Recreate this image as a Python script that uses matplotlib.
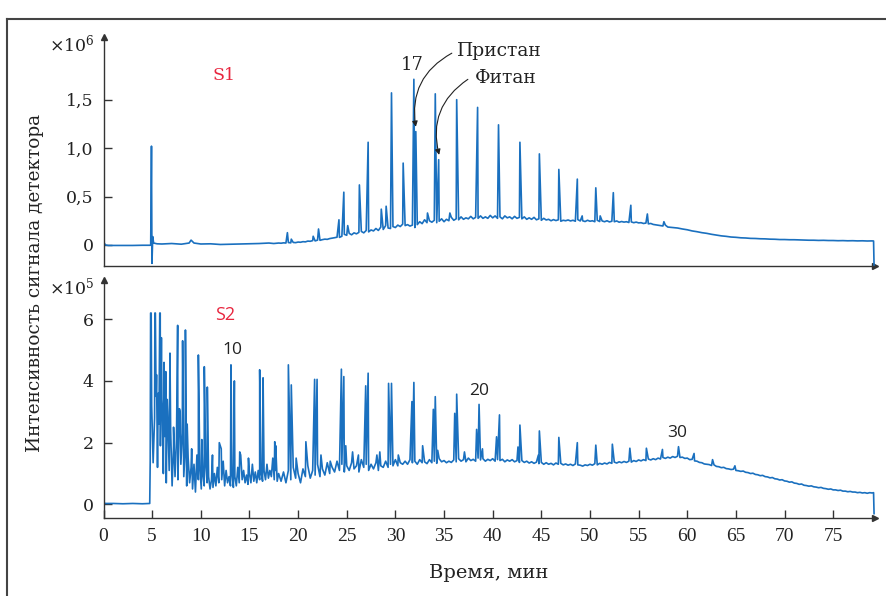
import matplotlib
matplotlib.use("Agg")
import matplotlib.pyplot as plt
import numpy as np
from matplotlib.lines import Line2D

plt.rcParams['font.family'] = ['DejaVu Serif']
plt.rcParams['mathtext.fontset'] = 'dejavuserif'

# ---------------- S1 (x10^6) ----------------
# quiet start of the run
s1_pre_t = [0, 0.2, 0.5, 1, 2, 3, 4, 4.85, 5.15, 5.5, 6, 7, 8, 8.8, 9.3, 10,
            11, 12, 13, 14, 15, 16, 17, 17.5, 18.0]
s1_pre_v = [0.03, 0.0, -0.005, -0.005, -0.004, -0.005, -0.003, -0.003, 0.02, 0.012,
            0.01, 0.015, 0.008, 0.02, 0.02, 0.01, 0.012, 0.005, 0.008, 0.01,
            0.012, 0.015, 0.02, 0.015, 0.02]
# noisy hump, every 0.25 min from 18.25 to 58.00
s1_hump_start = 18.25
s1_hump_v = [
    0.018, 0.022, 0.020, 0.025, 0.022, 0.026, 0.024, 0.030,
    0.028, 0.034, 0.032, 0.040, 0.038, 0.045, 0.042, 0.050,
    0.048, 0.055, 0.060, 0.058, 0.066, 0.070, 0.075, 0.080,
    0.078, 0.090, 0.110, 0.100, 0.120, 0.105, 0.125, 0.115,
    0.130, 0.140, 0.125, 0.150, 0.135, 0.155, 0.145, 0.170,
    0.150, 0.185, 0.160, 0.200, 0.175, 0.170, 0.190, 0.180,
    0.205, 0.190, 0.215, 0.200, 0.210, 0.195, 0.205, 0.180,
    0.210, 0.240, 0.220, 0.260, 0.230, 0.250, 0.235, 0.255,
    0.230, 0.245, 0.270, 0.240, 0.265, 0.250, 0.285, 0.255,
    0.270, 0.260, 0.290, 0.265, 0.280, 0.270, 0.295, 0.270,
    0.285, 0.275, 0.300, 0.275, 0.290, 0.275, 0.305, 0.280,
    0.300, 0.275, 0.290, 0.270, 0.300, 0.280, 0.290, 0.270,
    0.295, 0.275, 0.285, 0.270, 0.290, 0.265, 0.280, 0.265,
    0.285, 0.260, 0.270, 0.255, 0.275, 0.258, 0.265, 0.250,
    0.262, 0.252, 0.260, 0.245, 0.255, 0.250, 0.258, 0.248,
    0.255, 0.245, 0.262, 0.248, 0.250, 0.242, 0.255, 0.245,
    0.250, 0.240, 0.255, 0.242, 0.248, 0.240, 0.250, 0.238,
    0.245, 0.240, 0.248, 0.235, 0.242, 0.236, 0.240, 0.232,
    0.238, 0.230, 0.236, 0.228, 0.230, 0.222, 0.226, 0.218,
    0.222, 0.212, 0.208, 0.205, 0.200, 0.196, 0.205, 0.185,
]
# tail, every 0.5 min from 58.5 to 79.0, then end of run
s1_tail_start = 58.5
s1_tail_v = [
    0.180, 0.175, 0.165, 0.157, 0.145, 0.137, 0.127, 0.120, 0.110, 0.102,
    0.094, 0.089, 0.082, 0.079, 0.074, 0.072, 0.068, 0.067, 0.064, 0.063,
    0.060, 0.059, 0.056, 0.056, 0.054, 0.054, 0.052, 0.051, 0.049, 0.049,
    0.047, 0.048, 0.046, 0.046, 0.044, 0.045, 0.043, 0.044, 0.042, 0.043,
    0.041, 0.042,
]
s1_end_t = [79.15, 79.2]
s1_end_v = [0.041, -0.21]
# peaks: retention time (min), height
s1_peak_t = [4.93, 4.98, 5.06, 9.0, 9.1, 18.9, 19.3, 21.55, 22.1, 24.2, 24.7,
             25.1, 26.3, 27.2, 28.55, 29.05, 29.6, 30.8, 31.9, 32.1, 33.3,
             34.1, 34.45, 35.6, 36.3, 38.45, 40.6, 42.8, 44.8, 46.8, 48.7,
             49.2, 50.6, 51.05, 52.4, 54.2, 55.9, 57.6]
s1_peak_v = [1.02, -0.19, 0.086, 0.05, 0.04, 0.127, 0.06, 0.09, 0.165, 0.26, 0.545,
             0.2, 0.62, 1.06, 0.37, 0.40, 1.57, 0.845, 1.71, 1.17, 0.33,
             1.56, 0.88, 0.33, 1.50, 1.42, 1.24, 1.06, 0.94, 0.78, 0.68,
             0.30, 0.59, 0.30, 0.54, 0.41, 0.32, 0.24]

# ---------------- S2 (x10^5) ----------------
s2_pre_t = [0, 0.2, 1, 2, 3, 4, 4.75]
s2_pre_v = [0.05, 0.03, 0.03, 0.02, 0.03, 0.02, 0.03]
# dense early part, every 0.15 min from 4.80 to 18.00
s2_early_start = 4.8
s2_early_v = [
    1.4, 3.2, 1.35, 2.8, 3.5, 1.2, 2.6, 1.9, 3.4, 1.0,
    2.2, 0.7, 3.0, 1.1, 2.4, 0.6, 1.9, 0.9, 2.1, 0.8,
    3.1, 1.3, 2.3, 0.9, 1.8, 0.6, 1.5, 0.7, 1.2, 0.5,
    1.3, 0.4, 1.6, 0.8, 1.2, 0.5, 1.0, 0.6, 1.3, 0.7,
    0.9, 0.5, 0.8, 0.55, 1.0, 0.6, 1.2, 0.7, 1.9, 0.8,
    1.4, 0.6, 1.1, 0.7, 0.9, 0.6, 1.0, 0.55, 0.9, 0.6,
    1.2, 0.7, 1.6, 0.8, 1.1, 0.7, 0.95, 0.65, 1.0, 0.7,
    1.3, 0.75, 1.05, 0.7, 1.1, 0.8, 1.0, 0.75, 1.1, 0.8,
    1.3, 0.85, 1.1, 0.9, 1.5, 0.8, 1.1, 0.75, 1.0,
]
# hump, every 0.25 min from 18.25 to 62.00
s2_hump_start = 18.25
s2_hump_v = [
    0.75, 1.05, 0.70, 1.10, 0.80, 1.20, 0.85, 1.00,
    0.70, 1.15, 0.90, 1.25, 0.85, 1.10, 0.95, 1.30,
    0.90, 1.15, 0.95, 1.35, 1.00, 1.20, 1.05, 1.40,
    1.10, 1.30, 1.05, 1.25, 1.10, 1.35, 1.15, 1.25,
    1.05, 1.45, 1.20, 1.30, 1.10, 1.30, 1.15, 1.35,
    1.10, 1.25, 1.20, 1.40, 1.20, 1.30, 1.25, 1.45,
    1.25, 1.35, 1.30, 1.40, 1.30, 1.45, 1.35, 1.40,
    1.30, 1.45, 1.35, 1.38, 1.32, 1.45, 1.35, 1.40,
    1.33, 1.48, 1.38, 1.42, 1.35, 1.40, 1.36, 1.44,
    1.38, 1.48, 1.40, 1.45, 1.38, 1.50, 1.42, 1.46,
    1.40, 1.50, 1.44, 1.48, 1.40, 1.46, 1.42, 1.48,
    1.40, 1.45, 1.42, 1.46, 1.38, 1.44, 1.40, 1.45,
    1.38, 1.42, 1.36, 1.42, 1.36, 1.40, 1.34, 1.38,
    1.33, 1.37, 1.32, 1.36, 1.30, 1.35, 1.30, 1.33,
    1.28, 1.34, 1.30, 1.33, 1.28, 1.31, 1.27, 1.30,
    1.26, 1.31, 1.28, 1.27, 1.24, 1.28, 1.26, 1.30,
    1.27, 1.32, 1.28, 1.33, 1.30, 1.34, 1.31, 1.36,
    1.33, 1.37, 1.34, 1.38, 1.35, 1.39, 1.36, 1.40,
    1.37, 1.42, 1.39, 1.44, 1.41, 1.45, 1.42, 1.47,
    1.44, 1.48, 1.45, 1.50, 1.47, 1.52, 1.49, 1.53,
    1.50, 1.55, 1.52, 1.56, 1.52, 1.53, 1.49, 1.50,
    1.45, 1.46, 1.41, 1.40, 1.36, 1.35, 1.31, 1.30,
]
# tail, every 0.25 min from 62.25 to 79.00
s2_tail_start = 62.25
s2_tail_v = [
    1.29, 1.26, 1.28, 1.23, 1.22, 1.19, 1.20, 1.16,
    1.15, 1.13, 1.14, 1.10, 1.09, 1.07, 1.08, 1.04,
    1.03, 1.00, 1.01, 0.97, 0.96, 0.93, 0.94, 0.90,
    0.89, 0.86, 0.87, 0.83, 0.82, 0.79, 0.80, 0.76,
    0.75, 0.72, 0.73, 0.69, 0.68, 0.65, 0.66, 0.62,
    0.61, 0.59, 0.60, 0.57, 0.56, 0.54, 0.55, 0.52,
    0.51, 0.49, 0.50, 0.47, 0.47, 0.45, 0.46, 0.43,
    0.43, 0.41, 0.42, 0.40, 0.40, 0.38, 0.39, 0.37,
    0.38, 0.36, 0.38, 0.37,
]
s2_end_t = [79.15, 79.2]
s2_end_v = [0.38, -0.3]
s2_peak_t = [4.84, 4.90, 5.28, 5.33, 5.45, 5.62, 5.78, 5.83, 5.95, 6.05, 6.22,
             6.4, 6.55, 6.83, 7.2, 7.62, 7.88, 8.13, 8.42, 8.6, 9.06, 9.75,
             10.1, 10.36, 10.67, 11.2, 11.9, 12.1, 13.1, 13.45, 14.0, 14.9,
             16.05, 16.4, 17.6, 17.7, 19.0, 19.3, 19.8, 20.8, 21.7, 21.95,
             22.35, 23.3, 24.45, 24.7, 24.9, 25.6, 26.2, 26.95, 27.2, 28.1,
             28.4, 29.3, 29.6, 30.3, 31.7, 31.9, 32.8, 33.9, 34.1, 34.35,
             36.1, 36.3, 37.1, 38.35, 38.6, 38.95, 40.4, 40.7, 42.6, 42.8,
             44.7, 44.8, 46.8, 48.7, 50.6, 52.3, 54.1, 55.8, 57.45, 59.1,
             60.7, 62.6, 64.9]
s2_peak_v = [6.2, 6.2, 6.2, 6.2, 4.2, 3.6, 6.2, 6.2, 5.4, 3.1, 4.6,
             4.3, 3.4, 4.9, 2.5, 5.8, 3.0, 5.3, 5.65, 2.6, 1.8, 4.84,
             2.1, 4.46, 3.8, 1.6, 2.0, 1.8, 4.52, 4.0, 1.7, 1.5,
             4.36, 4.1, 2.03, 1.9, 4.52, 3.87, 1.5, 2.03, 4.05, 4.05,
             1.6, 1.4, 4.38, 4.14, 1.9, 1.7, 1.6, 3.84, 4.25, 1.6,
             1.7, 3.92, 3.92, 1.6, 3.33, 3.95, 1.9, 3.08, 3.49, 1.75,
             2.95, 3.57, 1.7, 2.43, 3.24, 1.8, 2.19, 2.9, 1.86, 2.57,
             1.6, 2.38, 2.17, 2.0, 1.92, 1.95, 1.82, 1.82, 1.78, 1.87,
             1.65, 1.45, 1.25]

time_ticks = list(range(0, 80, 5))


def grid(start, step, vals):
    return start + step * np.arange(len(vals))


def build(parts_t, parts_v):
    t = np.concatenate([np.asarray(p, float) for p in parts_t])
    v = np.concatenate([np.asarray(p, float) for p in parts_v])
    order = np.argsort(t, kind='stable')
    return t[order], v[order]


s1_t, s1_v = build(
    [s1_pre_t, grid(s1_hump_start, 0.25, s1_hump_v), grid(s1_tail_start, 0.5, s1_tail_v),
     s1_end_t, s1_peak_t],
    [s1_pre_v, s1_hump_v, s1_tail_v, s1_end_v, s1_peak_v])
s2_t, s2_v = build(
    [s2_pre_t, grid(s2_early_start, 0.15, s2_early_v), grid(s2_hump_start, 0.25, s2_hump_v),
     grid(s2_tail_start, 0.25, s2_tail_v), s2_end_t, s2_peak_t],
    [s2_pre_v, s2_early_v, s2_hump_v, s2_tail_v, s2_end_v, s2_peak_v])

line_color = '#1a70bf'
red = '#e8263f'
axis_color = '#333333'
txt = '#222222'

fig = plt.figure(figsize=(8.87, 5.96), dpi=100)
ax1 = fig.add_axes([0.1167, 0.5542, 0.8698, 0.3842])
ax2 = fig.add_axes([0.1167, 0.1304, 0.8698, 0.3998])

for ax in (ax1, ax2):
    for s in ('top', 'right'):
        ax.spines[s].set_visible(False)
    for s in ('left', 'bottom'):
        ax.spines[s].set_color(axis_color)
        ax.spines[s].set_linewidth(1.0)
    ax.set_xlim(0, 79.3)
    ax.plot(1, 0, '>', color=axis_color, ms=4, transform=ax.transAxes, clip_on=False)
    ax.plot(0, 1, '^', color=axis_color, ms=4, transform=ax.transAxes, clip_on=False)
    ax.tick_params(direction='in', length=6, width=1, color=axis_color,
                   labelsize=12.5, pad=7, labelcolor=txt)

ax1.plot(s1_t, s1_v, color=line_color, lw=1.2)
ax1.set_ylim(-0.214, 2.15)
ax1.set_yticks([0, 0.5, 1.0, 1.5])
ax1.set_yticklabels(['0', '0,5', '1,0', '1,5'])
ax1.tick_params(axis='x', bottom=False, labelbottom=False)

ax2.plot(s2_t, s2_v, color=line_color, lw=1.2)
ax2.set_ylim(-0.45, 7.27)
ax2.set_yticks([0, 2, 4, 6])
ax2.set_xticks(time_ticks)
ax2.tick_params(axis='x', labelsize=14, labelfontfamily='Liberation Serif')

# multipliers
ax1.text(-0.012, 2.07, r'$\times10^6$', transform=ax1.get_yaxis_transform(),
         ha='right', va='center', fontsize=12.5, color=txt)
ax2.text(-0.012, 7.02, r'$\times10^5$', transform=ax2.get_yaxis_transform(),
         ha='right', va='center', fontsize=12.5, color=txt)

# sample labels
ax1.text(12.4, 1.75, 'S1', color=red, fontsize=12.5, ha='center', va='center')
sans = ['Open Sans', 'DejaVu Sans']
ax2.text(12.5, 6.14, 'S2', color=red, fontsize=13, ha='center', va='center', family=sans)

# annotations
ax1.text(31.7, 1.86, '17', fontsize=13, ha='center', va='center', color=txt)
ax1.text(36.3, 2.0, 'Пристан', fontsize=13.5, ha='left', va='center', color=txt)
ax1.text(38.2, 1.72, 'Фитан', fontsize=13.5, ha='left', va='center', color=txt)
arrow = dict(arrowstyle='-|>', color=txt, lw=0.8, mutation_scale=8,
             connectionstyle='arc3,rad=0.35', shrinkA=0, shrinkB=0)
ax1.annotate('', xy=(32.1, 1.22), xytext=(35.8, 1.98), arrowprops=arrow)
ax1.annotate('', xy=(34.5, 0.93), xytext=(37.45, 1.71), arrowprops=arrow)

ax2.text(13.2, 5.0, '10', fontsize=12.5, ha='center', va='center', family=sans, color=txt)
ax2.text(38.6, 3.68, '20', fontsize=12.5, ha='center', va='center', family=sans, color=txt)
ax2.text(59.0, 2.3, '30', fontsize=12.5, ha='center', va='center', family=sans, color=txt)

# axis titles
fig.text(35 / 887, 1 - 283 / 596, 'Интенсивность сигнала детектора', rotation=90,
         ha='center', va='center', fontsize=13.3, color=txt)
fig.text(489 / 887, 1 - 573 / 596, 'Время, мин', ha='center', va='center',
         fontsize=14, color=txt)

# frame (open on the right and bottom)
fx, fy = 7.5 / 887, 1 - 18.7 / 596
fig.add_artist(Line2D([fx, 1.0], [fy, fy], color='#444444', lw=1.5))
fig.add_artist(Line2D([fx, fx], [0.0, fy], color='#444444', lw=1.5))

fig.savefig('out.png', dpi=100)
